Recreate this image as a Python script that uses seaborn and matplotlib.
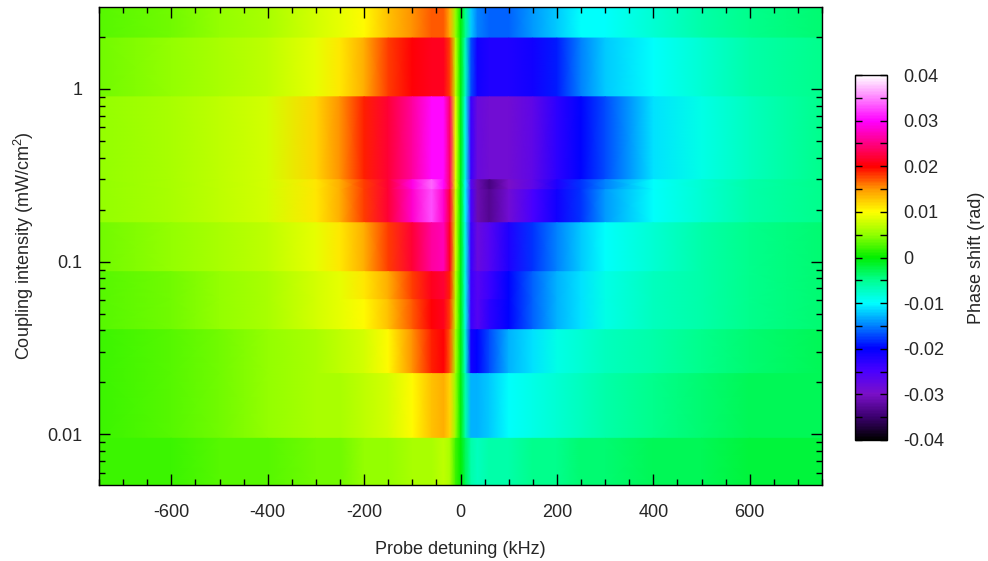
import numpy as np
import matplotlib
matplotlib.use("Agg")
import matplotlib.pyplot as plt
from matplotlib.ticker import FixedLocator, FuncFormatter, MultipleLocator, LogLocator, NullFormatter
import seaborn as sns

# ---------------- data ----------------
# probe detuning sample points (kHz)
detuning_khz = [-750, -600, -500, -400, -300, -250, -200, -150, -100, -60, -35, -22, -10,
                0, 10, 22, 35, 60, 100, 150, 200, 250, 300, 400, 500, 600, 750]

# coupling-intensity band edges (mW/cm^2), top to bottom
intensity_edges = [2.98, 1.97, 0.90, 0.298, 0.261, 0.168, 0.0875, 0.0603, 0.0404, 0.0225, 0.0095, 0.0051]

# phase shift per band (mrad), one list per intensity band, top to bottom
phase_r1 = [3, 4, 5, 6, 8, 9, 10, 13, 15, 17, 17, 14, 5, 0, -5, -12, -15, -16, -16, -14, -12, -10, -10, -8, -6, -5, -4]
phase_r2 = [4, 5, 6, 7, 9, 11, 14, 18, 20, 21, 21, 18, 7, 0, -7, -17, -21, -22, -22, -21, -19, -15, -12, -10, -8, -6, -5]
phase_r3 = [5, 6, 7, 8, 12, 15, 19, 22, 26, 30, 30, 24, 9, 0, -9, -24, -28, -29, -29, -27, -23, -20, -17, -11, -9, -7, -5]
phase_r4 = [5, 6, 7, 8, 11, 14, 18, 22, 29, 34, 30, 24, 9, 0, -10, -26, -31, -34, -30, -27, -22, -18, -15, -10, -8, -6, -5]
phase_r5 = [5, 6, 7, 8, 11, 14, 18, 22, 28, 33, 28, 22, 8, 0, -10, -25, -31, -33, -29, -25, -21, -18, -14, -10, -8, -6, -5]
phase_r6 = [4, 5, 6, 7, 9, 11, 14, 18, 22, 26, 27, 21, 8, 0, -9, -24, -28, -26, -22, -18, -15, -12, -10, -8, -6, -5, -4]
phase_r7 = [3, 4, 5, 6, 8, 9, 11, 14, 18, 21, 22, 19, 7, 0, -9, -24, -26, -24, -20, -16, -13, -11, -9, -7, -6, -5, -4]
phase_r8 = [3, 4, 5, 6, 8, 9, 10, 13, 17, 20, 21, 18, 7, 0, -9, -24, -26, -23, -20, -16, -13, -11, -9, -7, -6, -5, -4]
phase_r9 = [2, 3, 4, 5, 6, 7, 8, 10, 15, 19, 20, 17, 6, 0, -8, -21, -20, -17, -13, -11, -9, -8, -7, -6, -5, -4, -3]
phase_r10 = [2, 3, 4, 5, 6, 6, 7, 8, 10, 13, 14, 12, 5, 0, -6, -13, -13, -12, -10, -9, -8, -7, -6, -5, -4, -3, -3]
phase_r11 = [2, 2, 3, 3, 4, 4, 5, 5, 6, 6, 7, 6, 2, 0, -3, -6, -7, -6, -6, -5, -5, -4, -4, -3, -3, -2, -2]

phase_rows = [phase_r1, phase_r2, phase_r3, phase_r4, phase_r5, phase_r6,
              phase_r7, phase_r8, phase_r9, phase_r10, phase_r11]

# colour stops, evenly spaced from -0.04 to 0.04 rad
cmap_colors = ["#000000", "#3c0070", "#7a10c8", "#4a00ff", "#0000ff", "#0080ff", "#00ffff",
               "#00ff90", "#00ee00", "#90ff00", "#ffff00", "#ff9900", "#ff0000", "#ff0080",
               "#ff00ff", "#ff80ff", "#ffffff"]

cbar_ticks = [-0.04, -0.03, -0.02, -0.01, 0, 0.01, 0.02, 0.03, 0.04]
x_ticks = [-600, -400, -200, 0, 200, 400, 600]
y_ticks = [0.01, 0.1, 1]

# ---------------- style ----------------
sns.set_style("ticks")
plt.rcParams.update({
    "font.family": ["Liberation Sans", "DejaVu Sans"],
    "axes.unicode_minus": False,
    "mathtext.default": "regular",
    "font.size": 13,
    "axes.edgecolor": "black",
    "axes.linewidth": 1.0,
    "axes.axisbelow": False,
})

cmap = sns.blend_palette(cmap_colors, as_cmap=True)

fig = plt.figure(figsize=(9.88, 5.61), dpi=100)
W, H = 988, 561
ax = fig.add_axes([99 / W, 1 - 485 / H, (822 - 99) / W, (485 - 7) / H])
cax = fig.add_axes([855 / W, 1 - 440 / H, 32 / W, 365 / H])
ax.set_axisbelow(False)

# build banded mesh (two vertex rows per band, gouraud along detuning)
x = np.asarray(detuning_khz, dtype=float)
Xs, Ys, Cs = [], [], []
for i, row in enumerate(phase_rows):
    vals = np.asarray(row, dtype=float) / 1000.0
    for yv in (intensity_edges[i], intensity_edges[i + 1]):
        Xs.append(x)
        Ys.append(np.full_like(x, yv))
        Cs.append(vals)
mesh = ax.pcolormesh(np.array(Xs), np.array(Ys), np.array(Cs), shading="gouraud",
                     cmap=cmap, vmin=-0.04, vmax=0.04, rasterized=True, zorder=0)

ax.set_yscale("log")
ax.set_xlim(-750, 750)
ax.set_ylim(intensity_edges[-1], intensity_edges[0])

ax.set_xticks(x_ticks)
ax.xaxis.set_minor_locator(MultipleLocator(50))
ax.yaxis.set_major_locator(FixedLocator(y_ticks))
ax.yaxis.set_major_formatter(FuncFormatter(lambda v, p: f"{v:g}"))
ax.yaxis.set_minor_locator(LogLocator(base=10, subs=np.arange(2, 10)))
ax.yaxis.set_minor_formatter(NullFormatter())

ax.tick_params(which="both", direction="in", top=True, right=True, color="black", width=1)
ax.tick_params(which="major", length=8)
ax.tick_params(which="minor", length=4)
ax.tick_params(axis="x", which="major", pad=14, labelsize=13)
ax.tick_params(axis="y", which="major", pad=12, labelsize=13)
for s in ax.spines.values():
    s.set_visible(True)
    s.set_color("black")
    s.set_linewidth(1)
    s.set_zorder(5)

ax.set_xlabel("Probe detuning (kHz)", fontsize=13, labelpad=14)
ax.set_ylabel("Coupling intensity (mW/cm$^2$)", fontsize=13, labelpad=8)

cbar = fig.colorbar(mesh, cax=cax)
cbar.set_ticks(cbar_ticks)
cbar.ax.set_axisbelow(False)
cbar.ax.yaxis.set_major_formatter(FuncFormatter(lambda v, p: f"{round(v, 3):g}"))
cbar.ax.yaxis.set_minor_locator(MultipleLocator(0.005))
cbar.ax.tick_params(which="both", direction="in", left=True, right=True, length=5,
                    width=1, color="black", labelsize=13, pad=12)
cbar.outline.set_edgecolor("black")
cbar.outline.set_linewidth(1)
cbar.set_label("Phase shift (rad)", fontsize=13, labelpad=17)

fig.savefig("out.png", dpi=100)
